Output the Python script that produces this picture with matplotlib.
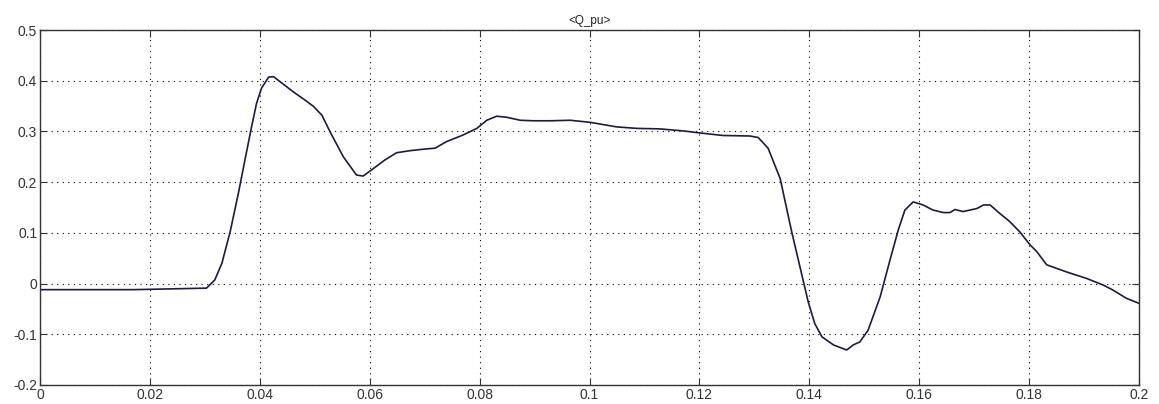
import matplotlib.pyplot as plt

# =========================
# DATA
# =========================
t = [0.0, 0.017, 0.0303, 0.0318, 0.0331, 0.0346, 0.0361, 0.0373, 0.0385,
     0.0394, 0.0403, 0.0416, 0.0425, 0.0437, 0.0461, 0.0482, 0.0497, 0.0513,
     0.0528, 0.0552, 0.0576, 0.0588, 0.0607, 0.0628, 0.0649, 0.0673, 0.0698,
     0.0719, 0.0740, 0.0770, 0.0795, 0.0813, 0.0831, 0.0849, 0.0874, 0.0898,
     0.0928, 0.0965, 0.1001, 0.1049, 0.1086, 0.1128, 0.1171, 0.1201, 0.1243,
     0.1292, 0.1307, 0.1325, 0.1347, 0.1368, 0.1383, 0.1398, 0.1410, 0.1423,
     0.1444, 0.1468, 0.1480, 0.1492, 0.1507, 0.1529, 0.1547, 0.1562, 0.1574,
     0.1589, 0.1607, 0.1625, 0.1644, 0.1656, 0.1665, 0.1680, 0.1705, 0.1717,
     0.1729, 0.1747, 0.1765, 0.1783, 0.1802, 0.1814, 0.1832, 0.1868, 0.1905,
     0.1935, 0.1953, 0.1977, 0.2]
q_pu = [-0.012, -0.012, -0.009, 0.007, 0.040, 0.102, 0.178, 0.244, 0.309,
        0.355, 0.385, 0.407, 0.408, 0.398, 0.378, 0.362, 0.350, 0.332,
        0.299, 0.250, 0.214, 0.212, 0.227, 0.244, 0.258, 0.262, 0.265,
        0.267, 0.280, 0.293, 0.306, 0.322, 0.330, 0.328, 0.322, 0.321,
        0.321, 0.322, 0.318, 0.309, 0.306, 0.305, 0.301, 0.297, 0.292,
        0.291, 0.288, 0.267, 0.207, 0.102, 0.033, -0.036, -0.079, -0.105,
        -0.121, -0.131, -0.121, -0.115, -0.092, -0.026, 0.047, 0.106, 0.145,
        0.161, 0.155, 0.145, 0.140, 0.140, 0.146, 0.142, 0.148, 0.155,
        0.155, 0.138, 0.122, 0.102, 0.076, 0.063, 0.037, 0.023, 0.010,
        -0.003, -0.013, -0.029, -0.039]

x_ticks = [0, 0.02, 0.04, 0.06, 0.08, 0.1, 0.12, 0.14, 0.16, 0.18, 0.2]
x_labels = ["0", "0.02", "0.04", "0.06", "0.08", "0.1", "0.12", "0.14", "0.16", "0.18", "0.2"]
y_ticks = [-0.2, -0.1, 0, 0.1, 0.2, 0.3, 0.4, 0.5]
y_labels = ["-0.2", "-0.1", "0", "0.1", "0.2", "0.3", "0.4", "0.5"]

# =========================
# PLOT
# =========================
plt.rcParams['font.family'] = ['Liberation Sans', 'DejaVu Sans']

fig = plt.figure(figsize=(11.59, 4.04), dpi=100)
ax = fig.add_axes([40 / 1159, 19 / 404, 1099 / 1159, 355 / 404])

ax.plot(t, q_pu, color="#1c1c3c", linewidth=1.2)

ax.set_xlim(0, 0.2)
ax.set_ylim(-0.2, 0.5)
ax.set_xticks(x_ticks)
ax.set_xticklabels(x_labels)
ax.set_yticks(y_ticks)
ax.set_yticklabels(y_labels)
ax.tick_params(direction="in", length=5, labelsize=10, colors="#333333",
               top=True, right=True, pad=2)
ax.grid(True, linestyle=(0, (1, 4)), color="black", linewidth=0.8)
for s in ax.spines.values():
    s.set_color("#333333")
    s.set_linewidth(1.0)

ax.set_title("<Q_pu>", fontsize=8.5, pad=4, color="#222222")

fig.savefig("out.png", dpi=100)
